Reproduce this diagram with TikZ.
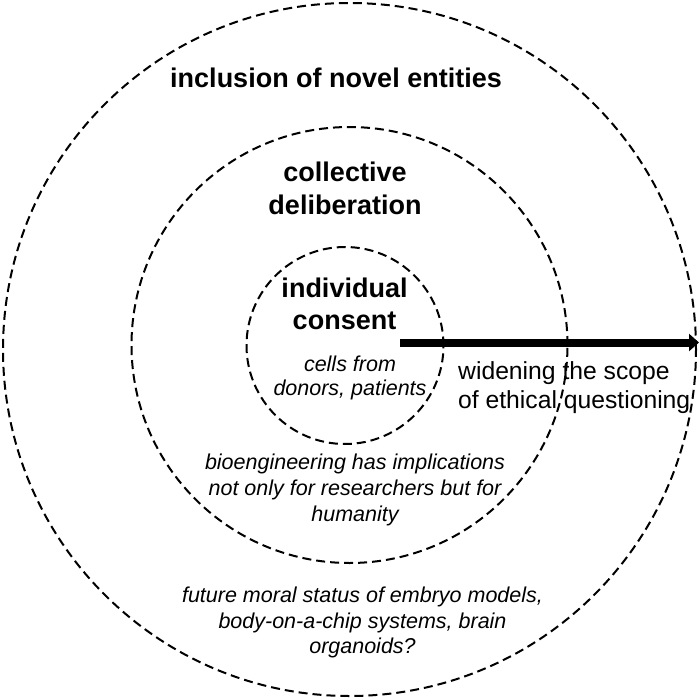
\documentclass[tikz,border=0pt]{standalone}
\usepackage{fontspec}
\setmainfont{Liberation Sans}
\usetikzlibrary{arrows.meta}
\begin{document}
\begin{tikzpicture}[x=1pt,y=-1pt,
  ring/.style={circle,draw=black,dash pattern=on 9pt off 5pt,line width=2pt,inner sep=0pt,outer sep=0pt},
  headtext/.style={font=\fontsize{27}{32.5}\selectfont\bfseries,align=center,anchor=base,inner sep=0pt},
  notetext/.style={font=\fontsize{21.5}{25.5}\selectfont\itshape,align=center,anchor=base,inner sep=0pt},
  scopetext/.style={font=\fontsize{24.7}{29}\selectfont,align=left,anchor=base west,inner sep=0pt},
  widen/.style={line width=8pt,-{Triangle[length=10pt,width=17pt]}}]
\useasboundingbox (0,0) rectangle (699,699);
\node[ring,minimum size=693pt] (outer) at (349.5,349.5) {};
\node[ring,minimum size=436pt] (middle) at (349.5,345) {};
\node[ring,minimum size=197pt] (inner) at (345,345.5) {};
\node[headtext] (novel) at (336,87) {inclusion of novel entities};
\node[headtext] (collective) at (345,214) {collective\\deliberation};
\node[headtext] (individual) at (344.5,329.5) {individual\\consent};
\node[notetext,font=\fontsize{21.5}{24}\selectfont\itshape] (cells) at (350,395.5) {cells from\\donors, patients};
\node[notetext,font=\fontsize{21.5}{26}\selectfont\itshape] (bio) at (355,521.5) {bioengineering has implications\\not only for researchers but for\\humanity};
\node[notetext] (future) at (362.5,653.5) {future moral status of embryo models,\\body-on-a-chip systems, brain\\organoids?};
\node[scopetext] (scope) at (458,408) {widening the scope\\of ethical questioning};
\coordinate (arrowstart) at (400,342.5);
\coordinate (arrowend) at (699,342.5);
\draw[widen] (arrowstart) -- (arrowend);
\end{tikzpicture}
\end{document}
